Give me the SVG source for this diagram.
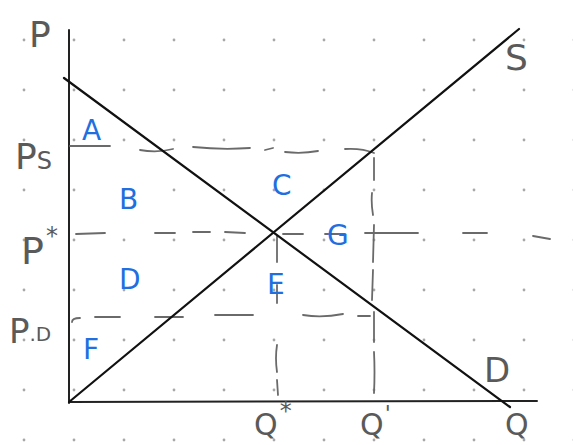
<svg xmlns="http://www.w3.org/2000/svg" width="573" height="445" viewBox="0 0 573 445">
<style>
.ax{stroke:#222;stroke-width:2;fill:none;stroke-linecap:round}
.ln{stroke:#111;stroke-width:2.2;fill:none;stroke-linecap:round}
.dash{stroke:#6a6a6a;stroke-width:1.8;fill:none;stroke-linecap:round}
.hw{font-family:"DejaVu Sans","Liberation Sans",sans-serif;fill:#5a5a5a;font-weight:normal}
.bl{font-family:"DejaVu Sans","Liberation Sans",sans-serif;fill:#1f6fe0}
</style>
<defs>
<pattern id="dots" width="50" height="50" patternUnits="userSpaceOnUse">
<circle cx="24" cy="40" r="1.4" fill="#a8a8a8"/>
</pattern>
</defs>
<rect width="573" height="445" fill="#fff"/>
<rect width="573" height="445" fill="url(#dots)"/>
<g id="axes">
<path class="ax" d="M69 30 L69 403"/>
<path class="ax" d="M69 402 L537 401"/>
</g>
<g id="guides">
<path class="dash" d="M70 146 L110 146 M140 150 Q157 153 173 149 M193 147 Q222 150 250 148 M265 150 L273 148 M285 152 Q302 154 318 151 M345 149 Q362 148 374 153"/>
<path class="dash" d="M76 234 L105 233 M155 233 L175 233 M193 232 L210 232 M225 232 L245 233 M283 234 L303 234 M325 234 L345 234 M365 233 L418 233 M463 233 L487 233 M533 236 L550 239"/>
<path class="dash" d="M72 322 Q72 318 80 318 M95 317 L120 317 M155 317 L183 317 M215 315 L253 315 M303 315 Q322 318 343 314 M358 316 L370 316"/>
<path class="dash" d="M277 236 L277 262 M277 285 L277 303 M277 345 Q275 358 277 372 M277 380 L278 395"/>
<path class="dash" d="M374 158 L374 180 M372 193 Q371 203 373 215 M374 225 L373 262 M373 270 L372 300 M374 312 L374 342 M374 352 Q375 372 374 393"/>
</g>
<g id="curves">
<path class="ln" d="M64 78 L510 407"/>
<path class="ln" d="M69 402 L519 29"/>
</g>
<g id="axis-labels">
<text class="hw" x="29" y="47" font-size="36">P</text>
<text class="hw" x="505" y="70" font-size="36">S</text>
<text class="hw" x="15" y="169" font-size="36">P<tspan font-size="24">S</tspan></text>
<text class="hw" x="21" y="264" font-size="38">P<tspan font-size="24" dx="2" dy="-20">*</tspan></text>
<text class="hw" x="9" y="343" font-size="34">P<tspan font-size="20" dy="-2">.D</tspan></text>
<text class="hw" x="484" y="382" font-size="34">D</text>
<text class="hw" x="254" y="435" font-size="30">Q<tspan font-size="24" dx="2" dy="-16">*</tspan></text>
<text class="hw" x="360" y="435" font-size="30">Q<tspan font-size="22" dx="1" dy="-14">'</tspan></text>
<text class="hw" x="505" y="435" font-size="30">Q</text>
</g>
<g id="areas">
<text class="bl" x="82" y="140" font-size="28">A</text>
<text class="bl" x="119" y="209" font-size="28">B</text>
<text class="bl" x="272" y="195" font-size="28">C</text>
<text class="bl" x="119" y="289" font-size="28">D</text>
<text class="bl" x="267" y="294" font-size="28">E</text>
<text class="bl" x="83" y="359" font-size="28">F</text>
<text class="bl" x="327" y="245" font-size="28">G</text>
</g>
</svg>
